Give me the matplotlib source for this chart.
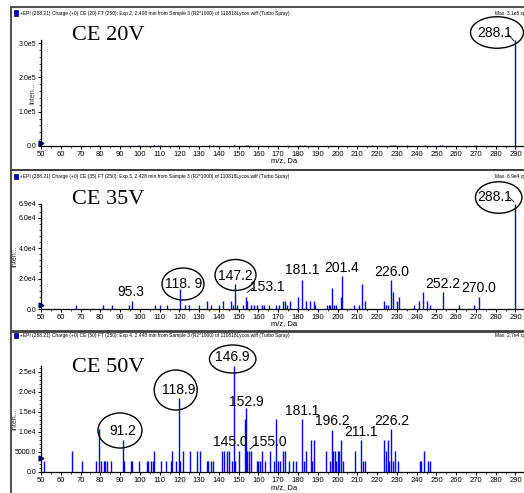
import matplotlib
matplotlib.use('Agg')
import matplotlib.pyplot as plt
from matplotlib.patches import Ellipse, Rectangle
from matplotlib.ticker import MultipleLocator

plt.rcParams['font.family'] = ['Liberation Sans Narrow', 'Liberation Sans', 'DejaVu Sans']

# ---- data (m/z, intensity) ----
mz20 = [50.2, 79, 99.5, 107, 109, 110, 119.5, 127, 135, 137, 147.5, 153.5, 154.5, 168,
        181, 183, 201, 217.5, 227, 228, 229, 235, 244, 252, 253, 270, 290.0]
int20 = [4000, 1500, 2500, 1500, 1500, 1500, 2500, 1200, 1500, 1500, 1500, 1500, 1500, 1200,
         1500, 2000, 1200, 2500, 2500, 3000, 2000, 2000, 2000, 3000, 2500, 1500, 310000]

mz35 = [67.7, 81.5, 86.1, 94.7, 95.9, 107.7, 110.3, 113.6, 120.2, 122.8, 125.0, 129.9, 133.8,
        135.8, 140.2, 141.9, 146.0, 147.0, 148.1, 149.3, 152.3, 153.7, 154.4, 156.0, 157.5,
        159.0, 161.8, 162.6, 165.5, 168.9, 170.2, 172.3, 173.6, 174.4, 176.1, 180.0, 182.0,
        184.0, 186.2, 187.9, 188.7, 194.7, 195.5, 196.3, 197.2, 198.0, 199.2, 201.6, 202.3,
        208.2, 210.7, 212.4, 214.0, 223.3, 224.5, 225.4, 227.0, 228.0, 230.2, 230.9, 238.5,
        241.4, 243.1, 245.4, 246.6, 253.5, 261.6, 269.0, 271.4, 289.8, 294.2]
int35 = [2600, 2600, 2600, 2600, 5300, 2600, 2600, 2600, 13000, 2600, 2600, 2600, 5300,
         2600, 2600, 5300, 5300, 2600, 16200, 2600, 2600, 7900, 5300, 2600, 2600,
         2600, 2600, 2600, 2600, 2600, 2600, 5300, 5300, 2600, 5300, 7900, 18800,
         5300, 5300, 5300, 2600, 2600, 2600, 2600, 13600, 2600, 2600, 7900, 21500,
         2600, 2600, 16200, 5300, 5300, 2600, 2600, 18800, 11000, 5300, 7900, 2600,
         5300, 11000, 5300, 2600, 11000, 2600, 2600, 7900, 69000, 2600]

mz50 = [51.7, 65.5, 70.6, 77.7, 79.5, 80.2, 81.9, 82.5, 83.5, 85.4, 91.3, 92.0, 95.4, 96.0,
        99.7, 103.5, 104.0, 105.5, 106.5, 107.3, 110.5, 113.1, 115.6, 116.1, 118.1, 119.6,
        120.3, 122.0, 125.4, 129.1, 130.4, 134.0, 134.5, 136.0, 137.2, 141.6, 142.7, 143.9,
        145.3, 146.5, 147.6, 148.3, 150.0, 153.0, 153.7, 154.4, 155.4, 156.4, 159.0, 160.0,
        161.0, 161.8, 163.5, 166.0, 167.7, 168.9, 169.9, 171.0, 172.3, 173.6, 175.3, 177.3,
        179.1, 182.0, 182.9, 184.0, 186.4, 187.1, 188.2, 194.3, 196.0, 197.2, 197.7, 198.6,
        199.2, 200.1, 200.9, 201.9, 202.6, 209.0, 212.0, 212.7, 213.7, 223.3, 224.5, 225.4,
        226.2, 227.2, 227.9, 229.2, 230.6, 241.5, 242.4, 243.6, 245.6, 246.6]
int50 = [2700, 5300, 2700, 2700, 10800, 2700, 2700, 2700, 2700, 2700, 8100, 2700, 2700, 2700,
         2700, 2700, 2700, 2700, 2700, 5300, 2700, 2700, 2700, 5300, 2700, 18500,
         2700, 5300, 5300, 5300, 5300, 2700, 2700, 2700, 2700, 5300, 5300, 5300,
         5300, 2700, 26500, 2700, 5300, 13300, 15900, 5300, 5300, 5300, 2700, 2700,
         2700, 5200, 2700, 5200, 2700, 13300, 2700, 2700, 5200, 5200, 2700, 2700,
         2700, 13300, 2700, 5200, 8000, 2700, 8000, 5200, 2700, 10600, 5200, 5200,
         2700, 5200, 5200, 8000, 2700, 5200, 8000, 2700, 2700, 8000, 5200, 8000,
         2700, 10700, 2700, 5200, 2700, 2700, 2700, 5200, 2700, 2700]

ce_labels = ['CE 20V', 'CE 35V', 'CE 50V']
headers = [
    '+EPI (288.21) Charge (+0) CE (20) FT (250): Exp 2, 2.408 min from Sample 3 (R2*1000) of 110818Lycos.wiff (Turbo Spray)',
    '+EPI (288.21) Charge (+0) CE (35) FT (250): Exp 3, 2.428 min from Sample 3 (R2*1000) of 110818Lycos.wiff (Turbo Spray)',
    '+EPI (288.21) Charge (+0) CE (50) FT (250): Exp 4, 2.448 min from Sample 3 (R2*1000) of 110818Lycos.wiff (Turbo Spray)',
]
max_labels = ['Max. 3.1e5 cps.', 'Max. 6.9e4 cps.', 'Max. 2.7e4 cps.']
ytick_vals = [[0, 1e5, 2e5, 3e5], [0, 2e4, 4e4, 6e4, 6.9e4], [0, 5000, 1e4, 1.5e4, 2e4, 2.5e4]]
ytick_text = [['0.0', '1.0e5', '2.0e5', '3.0e5'],
              ['0.0', '2.0e4', '4.0e4', '6.0e4', '6.9e4'],
              ['0.0', '5000.0', '1.0e4', '1.5e4', '2.0e4', '2.5e4']]
ymax = [3.1e5, 6.9e4, 2.66e4]
thresholds = [8000, 2600, 3500]

# peak labels: text, x px, y px, circled
peak_labels = [
    [('288.1', 494.8, 33.3, True)],
    [('95.3', 131, 291.5, False), ('118. 9', 184, 284.5, True), ('147.2', 235.5, 275.5, True),
     ('153.1', 267, 287, False), ('181.1', 302, 270, False), ('201.4', 342, 267.5, False),
     ('226.0', 391.3, 271.5, False), ('252.2', 443, 283.5, False), ('270.0', 478.7, 288.5, False),
     ('288.1', 494.7, 197, True)],
    [('91.2', 123, 431, True), ('118.9', 179, 389.5, True), ('146.9', 232.7, 357, True),
     ('152.9', 246.7, 402, False), ('145.0', 230.5, 442.5, False), ('155.0', 269.5, 442.5, False),
     ('181.1', 301.7, 411, False), ('196.2', 332, 421, False), ('211.1', 361, 431.5, False),
     ('226.2', 391.7, 421, False)],
]
# ellipse geometry for circled labels: cx, cy, w, h (px)
ellipses = [
    [(497, 32.5, 53, 31.5)],
    [(183, 284, 42, 32), (235.5, 275, 41, 31), (498.7, 197.5, 46.5, 31.5)],
    [(120, 430.5, 44, 35), (175.7, 390, 43, 40), (232.7, 359, 46.5, 28)],
]
leaders = [
    [((508, 34), (514, 41))],
    [((509, 197), (514, 202)), ((247, 292.5), (253, 288))],
    [((250, 449), (257, 443))],
]

W, H = 524, 493
axis_bottom = [146, 309, 472]
axis_top = [39.6, 204, 365.6]
header_y = [13, 176.5, 335.5]
ce_y = [35, 200, 368]
mz_y = [161, 323.5, 488]
inten_x = [33, 15, 15]
frames = [(11, 7, 170), (11, 170, 331), (11, 332, 500)]


def fx(x):
    return x / W


def fy(y):
    return 1 - y / H


fig = plt.figure(figsize=(W / 100, H / 100), dpi=100)

all_mz = [mz20, mz35, mz50]
all_int = [int20, int35, int50]

for i in range(3):
    x0, t, b = frames[i]
    fig.patches.append(Rectangle((fx(x0), fy(b)), fx(540 - x0), (b - t) / H, fill=False,
                                 edgecolor='#404040', lw=1.3, transform=fig.transFigure))

    ax = fig.add_axes([fx(41), fy(axis_bottom[i]), fx(524 - 41), (axis_bottom[i] - axis_top[i]) / H])
    ax.patch.set_alpha(0)
    ax.vlines(all_mz[i], 0, all_int[i], colors='#0000ff', lw=1.0)
    ax.plot([50], [thresholds[i]], marker='>', color='#000080', ms=3.5, clip_on=False)
    ax.set_xlim(50, 294.3)
    ax.set_ylim(0, ymax[i])
    for s in ['top', 'right']:
        ax.spines[s].set_visible(False)
    for s in ['left', 'bottom']:
        ax.spines[s].set_linewidth(0.9)
    ax.set_xticks(range(50, 291, 10))
    ax.xaxis.set_minor_locator(MultipleLocator(5))
    ax.set_yticks(ytick_vals[i])
    ax.set_yticklabels(ytick_text[i])
    ax.yaxis.set_minor_locator(MultipleLocator(ytick_vals[i][1] / 5))
    ax.tick_params(axis='x', labelsize=5.5, length=2.5, width=0.7, pad=1)
    ax.tick_params(axis='y', labelsize=5, length=2.5, width=0.7, pad=1)
    ax.tick_params(which='minor', length=1.3, width=0.5)

    # header line
    fig.patches.append(Rectangle((fx(13.5), fy(header_y[i] + 2.5)), fx(4), 5 / H, facecolor='#0000ff',
                                 edgecolor='#000040', lw=0.5, transform=fig.transFigure))
    fig.text(fx(20), fy(header_y[i]), headers[i], fontsize=3.5, va='center', ha='left')
    fig.text(fx(495), fy(header_y[i]), max_labels[i], fontsize=3.5, va='center', ha='left')

    fig.text(fx(72), fy(ce_y[i]), ce_labels[i], fontsize=16, va='center', ha='left',
             family=['Liberation Serif', 'DejaVu Serif'])
    fig.text(fx(inten_x[i]), fy((axis_bottom[i] + axis_top[i]) / 2), 'Inten...', fontsize=5,
             rotation=90, va='center', ha='center', color='#333333')
    fig.text(fx(284), fy(mz_y[i]), 'm/z, Da', fontsize=5.5, va='center', ha='center')

    for txt, x, y, circ in peak_labels[i]:
        fig.text(fx(x), fy(y), txt, fontsize=10, va='center', ha='center')
    for cx, cy, w, h in ellipses[i]:
        fig.patches.append(Ellipse((fx(cx), fy(cy)), w / W, h / H, fill=False, edgecolor='black',
                                   lw=1.0, transform=fig.transFigure))
    for (xa, ya), (xb, yb) in leaders[i]:
        fig.lines.append(plt.Line2D([fx(xa), fx(xb)], [fy(ya), fy(yb)], color='black', lw=0.6,
                                    transform=fig.transFigure))

fig.savefig('out.png', dpi=100)
